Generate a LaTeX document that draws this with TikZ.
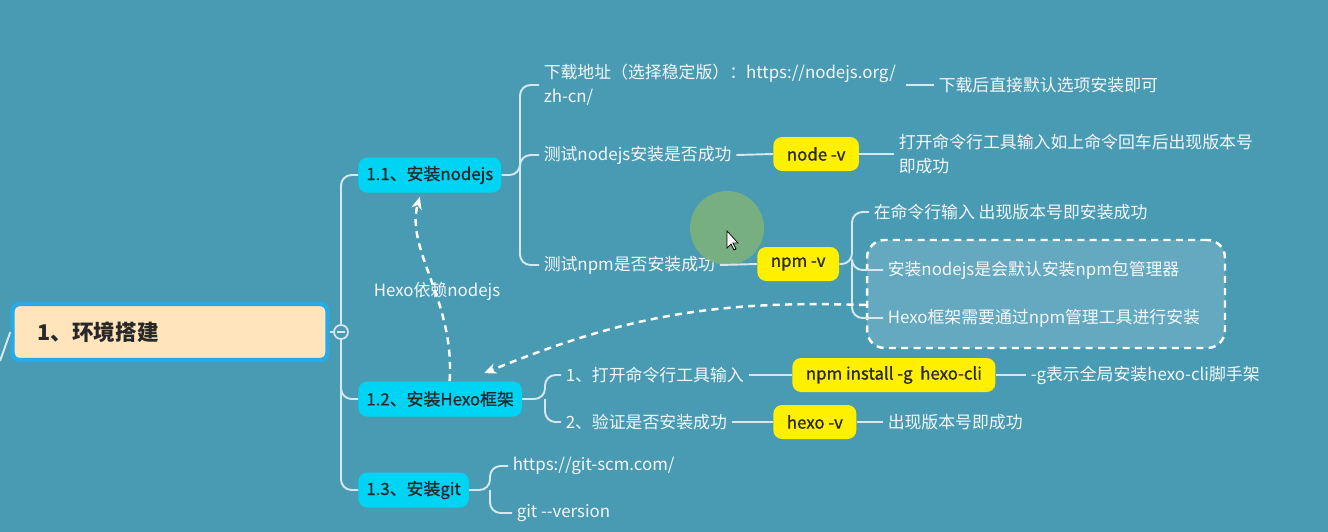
\documentclass[tikz,border=0pt]{standalone}
\usepackage{fontspec}
\setmainfont{Noto Sans CJK SC}
\newfontfamily\medfont[FakeBold=0.8]{Noto Sans CJK SC}
\usetikzlibrary{arrows.meta}

\definecolor{bg}{RGB}{73,155,180}
\definecolor{peach}{RGB}{255,228,188}
\definecolor{frame}{RGB}{40,170,230}
\definecolor{cyanbox}{RGB}{0,212,245}
\definecolor{yel}{RGB}{255,240,0}
\definecolor{linec}{RGB}{214,232,238}
\definecolor{txt}{RGB}{245,248,250}
\definecolor{dark}{RGB}{40,40,40}
\definecolor{spot}{RGB}{124,178,124}

\begin{document}
\begin{tikzpicture}[x=0.02cm, y=-0.02cm,
  font=\fontsize{9.6}{13.4}\selectfont,
  topic/.style={fill=cyanbox, text=dark, rounded corners=5pt, minimum height=0.7cm, inner xsep=0.16cm, anchor=west, font=\fontsize{9.6}{12}\medfont},
  cmd/.style={fill=yel, text=dark, rounded corners=5pt, minimum height=0.68cm, inner xsep=0.27cm, anchor=west, font=\fontsize{9.6}{12}\medfont},
  leaf/.style={text=txt, anchor=west, inner sep=2.5pt, align=left},
  conn/.style={draw=linec, line width=1.1pt, rounded corners=6pt},
  depend/.style={draw=white, line width=1.4pt, dash pattern=on 4pt off 3pt, -{Stealth[length=7pt,width=6pt]}}]

 \useasboundingbox (0,0) rectangle (1328,531);
 \fill[bg] (-5,-5) rectangle (1333,536);

 % root and trunk
 \node[draw=frame, line width=2.5pt, fill=peach, rounded corners=4pt, minimum height=1.12cm,
   inner xsep=0.5cm, text width=5.3cm, text=dark, font=\fontsize{12.3}{14}\selectfont\bfseries] (root) at (170,332) {1、环境搭建};
 \coordinate (in) at (0,361);
 \draw[conn, rounded corners=0] (in) -- (root.west);
 \node[circle, draw=linec, fill=bg, line width=1pt, minimum size=0.28cm, inner sep=0] (fold) at (341,332) {};
 \draw[linec, line width=1pt] ([xshift=-0.08cm]fold.center) -- ([xshift=0.08cm]fold.center);
 \draw[conn, rounded corners=0] (root.east) -- (fold.west);

 \node[topic] (t1) at (358,175) {1.1、安装nodejs};
 \node[topic] (t2) at (358,399) {1.2、安装Hexo框架};
 \node[topic] (t3) at (358,490) {1.3、安装git};
 \draw[conn] (fold.north) |- (t1.west);
 \draw[conn] (fold.south) |- (t2.west);
 \draw[conn] (fold.south) |- (t3.west);

 % 1.1
 \coordinate (b1) at (520,175);
 \node[leaf] (a1) at (539,85) {下载地址（选择稳定版）：https://nodejs.org/\\zh-cn/};
 \node[leaf] (a2) at (539,155) {测试nodejs安装是否成功};
 \node[leaf] (a3) at (539,265) {测试npm是否安装成功};
 \draw[conn] (t1.east) -- (b1) |- (a1.west);
 \draw[conn] (b1) |- (a2.west);
 \draw[conn] (b1) |- (a3.west);

 \node[leaf] (a1n) at (934,85) {下载后直接默认选项安装即可};
 \draw[conn] ([xshift=3pt]a1.east) -- (a1n.west);

 \node[cmd] (c1) at (773,154) {node -v};
 \draw[conn] (a2.east) -- (c1.west);
 \node[leaf] (a2n) at (894,154) {打开命令行工具输入如上命令回车后出现版本号\\即成功};
 \draw[conn] (c1.east) -- (a2n.west);

 \fill[spot, opacity=0.9] (727,228) circle (0.74cm);
 \filldraw[fill=white, draw=black, line width=0.4pt] (727,231) -- (727,248) -- (731,244) -- (734,250) -- (736,249) -- (733,243) -- (738,243) -- cycle;

 \node[cmd] (c2) at (757,264) {npm -v};
 \draw[conn] (a3.east) -- (c2.west);
 \node[draw=white, line width=1.4pt, dash pattern=on 4pt off 3pt, fill=white, fill opacity=0.15,
   rounded corners=10pt, minimum width=7.16cm, minimum height=2.16cm] (grp) at (1046,294) {};
 \coordinate (b2) at (852,264);
 \node[leaf] (n1) at (869,212) {在命令行输入 出现版本号即安装成功};
 \node[leaf] (n2) at (883,270) {安装nodejs是会默认安装npm包管理器};
 \node[leaf] (n3) at (883,318) {Hexo框架需要通过npm管理工具进行安装};
 \draw[conn] (c2.east) -- (b2) |- (n1.west);
 \draw[conn] (b2) |- (n2.west);
 \draw[conn] (b2) |- (n3.west);

 % dependencies
 \draw[depend] ([yshift=-0.22cm]grp.west) to[bend right=12] ([xshift=0.88cm,yshift=0.16cm]t2.north);
 \draw[depend] ([xshift=0.19cm]t2.north) .. controls (455,300) and (405,250) .. ([xshift=-0.2cm,yshift=-0.08cm]t1.south);
 \node[text=txt] (dep) at (437,291) {Hexo依赖nodejs};

 % 1.2
 \coordinate (b3) at (545,399);
 \node[leaf] (h1) at (561,375) {1、打开命令行工具输入};
 \node[leaf] (h2) at (561,422) {2、验证是否安装成功};
 \draw[conn] (t2.east) -- (b3) |- (h1.west);
 \draw[conn] (b3) |- (h2.west);
 \node[cmd] (c3) at (792,375) {npm install -g\ \ hexo-cli};
 \draw[conn] (h1.east) -- (c3.west);
 \node[leaf] (h1n) at (1026,375) {-g表示全局安装hexo-cli脚手架};
 \draw[conn] (c3.east) -- (h1n.west);
 \node[cmd] (c4) at (773,422) {hexo -v};
 \draw[conn] (h2.east) -- (c4.west);
 \node[leaf] (h2n) at (883,422) {出现版本号即成功};
 \draw[conn] (c4.east) -- (h2n.west);

 % 1.3
 \coordinate (b4) at (490,490);
 \node[leaf] (g1) at (508,466) {https://git-scm.com/};
 \node[leaf] (g2) at (512,513) {git -{}-version};
 \draw[conn] (t3.east) -- (b4) |- (g1.west);
 \draw[conn] (b4) |- (g2.west);
\end{tikzpicture}
\end{document}
